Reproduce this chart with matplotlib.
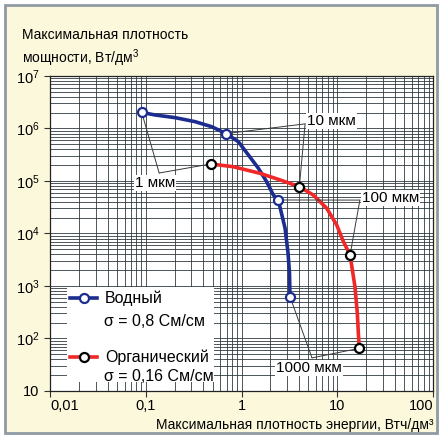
#!/usr/bin/env python
import numpy
import matplotlib
matplotlib.use('Agg')
import matplotlib.pyplot as plt
from matplotlib.patches import Rectangle
from matplotlib.lines import Line2D
from matplotlib.ticker import FixedLocator, FixedFormatter, NullFormatter

plt.rcParams['font.family'] = ['Liberation Sans', 'DejaVu Sans']
plt.rcParams['mathtext.fontset'] = 'custom'
plt.rcParams['mathtext.rm'] = 'Liberation Sans'
plt.rcParams['mathtext.it'] = 'Liberation Sans'
plt.rcParams['mathtext.default'] = 'regular'

#traced curve, aqueous electrolyte (Wh/dm3, W/dm3)
water_x = [0.0908, 0.125, 0.202, 0.327, 0.489, 0.689, 0.927, 1.18, 1.50, 1.83, 2.15, 2.42,
           2.85, 3.06, 3.17, 3.21]
water_y = [2.02e6, 1.81e6, 1.61e6, 1.35e6, 1.08e6, 8.0e5, 5.6e5, 3.13e5, 1.75e5, 9.7e4, 5.4e4, 4.35e4,
           1.26e4, 4.25e3, 1.77e3, 625]
#marked points (1, 10, 100, 1000 um)
water_pts_x = [0.0908, 0.689, 2.42, 3.21]
water_pts_y = [2.02e6, 8.0e5, 4.35e4, 625]

#traced curve, organic electrolyte
org_x = [0.476, 0.82, 1.56, 2.52, 4.02, 5.62, 7.76, 9.87, 11.6, 13.6, 15.3, 16.2, 16.6, 17.0]
org_y = [2.11e5, 1.87e5, 1.40e5, 1.05e5, 7.8e4, 5.4e4, 3.02e4, 1.45e4, 6.98e3, 3.9e3, 970, 302, 126, 65]
org_pts_x = [0.476, 4.02, 13.6, 17.0]
org_pts_y = [2.11e5, 7.8e4, 3.9e3, 65]

thickness_labels = ['1 мкм', '10 мкм', '100 мкм', '1000 мкм']

x_ticks = [0.01, 0.1, 1, 10, 100]
x_tick_labels = ['0,01', '0,1', '1', '10', '100']
y_ticks = [10, 1e2, 1e3, 1e4, 1e5, 1e6, 1e7]
y_tick_labels = ['10', '10$^2$', '10$^3$', '10$^4$', '10$^5$', '10$^6$', '10$^7$']

blue = '#1c2d8f'
red = '#f02828'
grid_col = '#2e3a40'

fig = plt.figure(figsize=(4.46, 4.37), dpi=100)
fig.patch.set_facecolor('white')
#beige panel with grey frame
fig.patches.append(Rectangle((0.0112, 0.009), 0.969, 0.979, transform=fig.transFigure,
                             facecolor='#fcf8dc', edgecolor='#8f9aa3', linewidth=2.0, zorder=-1))

ax = fig.add_axes([0.1121, 0.1053, 0.8588, 0.7208])
ax.set_zorder(1)
ax.set_facecolor('white')
ax.set_xscale('log')
ax.set_yscale('log')
ax.set_xlim(0.01, 100)
ax.set_ylim(10, 1e7)

ax.xaxis.set_major_locator(FixedLocator(x_ticks))
ax.xaxis.set_major_formatter(FixedFormatter(x_tick_labels))
ax.yaxis.set_major_locator(FixedLocator(y_ticks))
ax.yaxis.set_major_formatter(FixedFormatter(y_tick_labels))
ax.xaxis.set_minor_formatter(NullFormatter())
ax.yaxis.set_minor_formatter(NullFormatter())
ax.tick_params(which='major', length=4, width=0.8, labelsize=10.5, color='#333333')
ax.tick_params(axis='x', pad=2)
ax.tick_params(which='minor', length=0)
ax.grid(True, which='both', color=grid_col, linewidth=0.6)
for s in ax.spines.values():
    s.set_color('#222222')
    s.set_linewidth(0.9)

xl = ax.get_xticklabels()
xl[0].set_ha('left')
xl[-1].set_ha('right')

ax.plot(water_x, water_y, color=blue, linewidth=2.6, zorder=4, solid_capstyle='round',
        solid_joinstyle='round')
ax.plot(org_x, org_y, color=red, linewidth=2.6, zorder=4, solid_capstyle='round',
        solid_joinstyle='round')
ax.plot(water_pts_x, water_pts_y, 'o', markersize=6.5, markerfacecolor='white',
        markeredgecolor=blue, markeredgewidth=1.6, zorder=6)
ax.plot(org_pts_x, org_pts_y, 'o', markersize=6.5, markerfacecolor='white',
        markeredgecolor='black', markeredgewidth=1.6, zorder=6)

#thickness labels with leader lines (junction and text in axes fraction)
junctions = [(0.285, 0.692), (0.666, 0.848), (0.809, 0.606), (0.684, 0.105)]
text_pos = [(0.274, 0.660, 'center'), (0.671, 0.857, 'left'), (0.815, 0.613, 'left'), (0.676, 0.073, 'center')]
for i in range(4):
    jx, jy = junctions[i]
    for px, py in [(water_pts_x[i], water_pts_y[i]), (org_pts_x[i], org_pts_y[i])]:
        ax.annotate('', xy=(px, py), xycoords='data', xytext=(jx, jy), textcoords='axes fraction',
                    arrowprops=dict(arrowstyle='-', color='#3a3a3a', linewidth=0.7,
                                    shrinkA=0, shrinkB=3.5), zorder=5)
    tx, ty, ha = text_pos[i]
    ax.text(tx, ty, thickness_labels[i], transform=ax.transAxes, ha=ha, va='center',
            fontsize=11, zorder=5,
            bbox=dict(facecolor='white', edgecolor='none', pad=0.5))

#legend box
ax.add_patch(Rectangle((0.044, 0.029), 0.384, 0.301, transform=ax.transAxes,
                       facecolor='white', edgecolor='none', zorder=5))
for hy, col, ecol, l1, l2, y2 in [(0.295, blue, blue, 'Водный', 'σ = 0,8 См/см', 0.222),
                                   (0.108, red, 'black', 'Органический', 'σ = 0,16 См/см', 0.046)]:
    ax.add_line(Line2D([0.052, 0.123], [hy, hy], transform=ax.transAxes, color=col,
                       linewidth=2.6, zorder=6))
    ax.add_line(Line2D([0.0875], [hy], transform=ax.transAxes, marker='o', markersize=6.5,
                       markerfacecolor='white', markeredgecolor=ecol, markeredgewidth=1.6, zorder=7))
    ax.text(0.144, hy, l1, transform=ax.transAxes, ha='left', va='center', fontsize=11.5, zorder=7)
    ax.text(0.141, y2, l2, transform=ax.transAxes, ha='left', va='center', fontsize=11.5, zorder=7)

fig.text(0.049, 0.936, 'Максимальная плотность\nмощности, Вт/дм$^3$', ha='left', va='top',
         fontsize=10, linespacing=1.35)
fig.text(0.9709, 0.012, 'Максимальная плотность энергии, Втч/дм³', ha='right', va='bottom',
         fontsize=10)

fig.savefig('out.png', dpi=100, facecolor=fig.get_facecolor())
